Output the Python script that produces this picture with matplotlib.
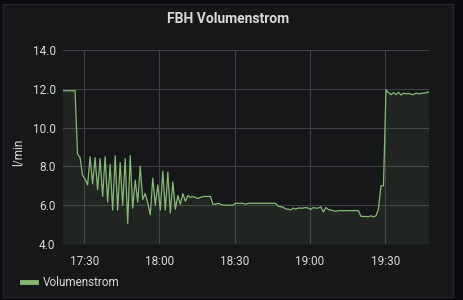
import numpy as np
import pandas as pd
import matplotlib
matplotlib.use("Agg")
import matplotlib.pyplot as plt
import matplotlib.dates as mdates
from matplotlib.patches import Rectangle

#--------------------------------------------------------------------------#
# data: flow rate [l/min], one sample per minute
t_start = "2020-01-01 17:21:20"
flow = [
    11.9, 11.9, 11.9, 11.9, 11.9, 11.9,                     # 17:21 ..
    8.65, 8.45, 7.55, 7.35, 7.05,
    8.5, 7.1, 8.45, 6.8, 8.4, 6.45, 8.5, 6.15, 8.1, 5.75,
    8.55, 5.75, 8.2, 6.0, 8.4, 5.05, 8.55, 5.85, 7.3, 6.15,
    8.0, 6.3, 6.6, 6.1, 5.5, 7.4, 6.0, 7.05, 5.75, 7.75,    # ~18:00
    5.75, 7.7, 5.6, 7.2, 5.8, 6.5, 6.05, 6.6, 6.2, 6.5,
    6.4, 6.45, 6.4, 6.35, 6.4, 6.45, 6.45, 6.45, 6.45, 6.05,
    6.05, 6.1, 6.05, 6.0, 6.0, 6.0, 6.0, 6.0, 6.1, 6.1,     # ~18:30
    6.1, 6.1, 6.05, 6.1, 6.1, 6.1, 6.1, 6.1, 6.1, 6.1,
    6.1, 6.1, 6.1, 6.1, 6.1, 5.95, 5.92, 5.9, 5.8, 5.8,
    5.75, 5.85, 5.8, 5.85, 5.85, 5.85, 5.88, 5.85, 5.78, 5.88,  # ~19:00
    5.85, 5.85, 5.92, 5.65, 5.88, 5.78, 5.75, 5.72, 5.68, 5.72,
    5.72, 5.72, 5.72, 5.72, 5.72, 5.72, 5.72, 5.72, 5.43, 5.42,
    5.42, 5.4, 5.45, 5.4, 5.45, 5.8, 7.0, 7.0, 11.95, 11.8,     # ~19:30
    11.7, 11.8, 11.7, 11.82, 11.68, 11.78, 11.74, 11.76, 11.72, 11.7,
    11.78, 11.74, 11.76, 11.78, 11.8, 11.84,
]
T = pd.date_range(t_start, periods=len(flow), freq="1min")

y_ticks  = [4.0, 6.0, 8.0, 10.0, 12.0, 14.0]
x_ticks  = ["17:30", "18:00", "18:30", "19:00", "19:30"]
title    = "FBH Volumenstrom"
y_label  = "l/min"
series   = "Volumenstrom"

#--------------------------------------------------------------------------#
# grafana-like dark colours
c_bg     = "#0b0c0e"
c_panel  = "#161719"
c_border = "#232528"
c_grid   = "#3e3f43"
c_text   = "#d8d9da"
c_line   = "#86b878"

plt.rcParams['font.family'] = ['Roboto', 'DejaVu Sans']

W, H = 464, 300
fig = plt.figure(figsize=(W/100, H/100), dpi=100, facecolor=c_bg)

# panel box (behind the axes)
fig.patches.append(Rectangle((3/W, 1-297/H), 450/W, 293/H, transform=fig.transFigure,
                             facecolor=c_panel, edgecolor=c_border, lw=1.0, zorder=-1))

ax = fig.add_axes([62.5/W, 56/H, 366.1/W, 194/H])
ax.set_facecolor("none")

ax.plot(T, flow, color=c_line, lw=0.9, label=series, zorder=3)
ax.fill_between(T, flow, 4.0, color=c_line, alpha=0.09, lw=0, zorder=2)

ax.set_xlim(T[0], T[-1])
ax.set_ylim(y_ticks[0], y_ticks[-1])
ax.set_yticks(y_ticks)
ax.set_yticklabels([f"{v:.1f}" for v in y_ticks])
day = T[0].strftime("%Y-%m-%d")
ax.set_xticks([pd.Timestamp(f"{day} {s}") for s in x_ticks])
ax.xaxis.set_major_formatter(mdates.DateFormatter("%H:%M"))

ax.grid(True, color=c_grid, lw=0.8, zorder=1)
for sp in ax.spines.values():
    sp.set_visible(False)
ax.tick_params(length=0, colors=c_text, labelsize=8.5)
ax.tick_params(axis='y', pad=5)
ax.tick_params(axis='x', pad=8)

ax.set_ylabel(y_label, color=c_text, fontsize=8.5)
ax.yaxis.set_label_coords(-37/366.1, 0.47)

fig.text(228/W, 1-19/H, title, color=c_text, fontsize=10, fontweight='bold',
         ha='center', va='center')

leg = fig.legend(loc='center left', bbox_to_anchor=(22/W, 17/H), frameon=False,
                 fontsize=8.5, handlelength=1.15, handletextpad=0.65, borderpad=0,
                 borderaxespad=0, labelcolor=c_text)
leg.legend_handles[0].set_linewidth(3.5)

fig.savefig("out.png", dpi=100, facecolor=c_bg)
